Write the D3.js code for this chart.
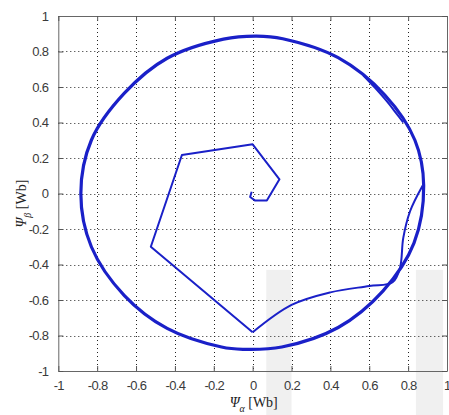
<!DOCTYPE html>
<html lang="en">
<head>
<meta charset="UTF-8">
<title>Flux trajectory</title>
<script src="https://d3js.org/d3.v7.min.js"></script>
<style>
  body { margin: 0; background: #fff; }
  svg { display: block; }
  .tick-label { font-family: "Liberation Sans", Arial, sans-serif; font-size: 13px; letter-spacing: -0.7px; fill: #3a3a3a; }
  .axis-title { font-family: "Liberation Serif", "Times New Roman", serif; font-size: 14px; fill: #222; }
</style>
</head>
<body>
<script>
// tick values for both axes
const xTicks = [-1, -0.8, -0.6, -0.4, -0.2, 0, 0.2, 0.4, 0.6, 0.8, 1];
const yTicks = [-1, -0.8, -0.6, -0.4, -0.2, 0, 0.2, 0.4, 0.6, 0.8, 1];

// start-up transient (psi_alpha, psi_beta)
const startX = [-0.005, -0.013, 0.013, 0.073, 0.138, 0.0, -0.364, -0.524, 0.0];
const startY = [0.01, -0.02, -0.04, -0.04, 0.08, 0.277, 0.217, -0.30, -0.782];

// curved segment from the bottom vertex into the circle
const arcX = [0.0, 0.2, 0.4, 0.6, 0.72, 0.758, 0.775, 0.81, 0.875];
const arcY = [-0.782, -0.628, -0.557, -0.521, -0.50, -0.42, -0.25, -0.10, 0.045];

// steady state circle (closed)
const circX = [0.880, 0.835, 0.68, 0.44, 0.155, 0.02, -0.15, -0.44, -0.66, -0.83, -0.884, -0.83, -0.66, -0.44, -0.16, -0.05, 0.15, 0.44, 0.67, 0.83];
const circY = [0.045, 0.30, 0.555, 0.765, 0.872, 0.887, 0.87, 0.762, 0.565, 0.30, 0.0, -0.30, -0.575, -0.76, -0.865, -0.878, -0.865, -0.755, -0.55, -0.28];

// small doubled piece at top right
const bumpX = [0.57, 0.63, 0.69, 0.74, 0.775];
const bumpY = [0.665, 0.595, 0.52, 0.45, 0.40];

const W = 449, H = 415;
const x = d3.scaleLinear().domain([-1, 1]).range([58.3, 447]);
const y = d3.scaleLinear().domain([-1, 1]).range([371, 16]);

const svg = d3.select('body').append('svg')
    .attr('width', W)
    .attr('height', H);

// faint scan blotches in the background
svg.append('g').selectAll('rect')
    .data([[0.07, 0.2], [0.84, 0.98]])
    .enter().append('rect')
    .attr('x', d => x(d[0]))
    .attr('width', d => x(d[1]) - x(d[0]))
    .attr('y', y(-0.43))
    .attr('height', H - y(-0.43))
    .attr('fill', '#f0f0f0');

// grid
const grid = svg.append('g').attr('stroke', '#222').attr('stroke-width', 1).attr('stroke-dasharray', '1,3');
grid.selectAll('.gx').data(xTicks.slice(1, -1)).enter().append('line')
    .attr('x1', d => Math.round(x(d)) + 0.5).attr('x2', d => Math.round(x(d)) + 0.5)
    .attr('y1', y(1)).attr('y2', y(-1));
grid.selectAll('.gy').data(yTicks.slice(1, -1)).enter().append('line')
    .attr('y1', d => Math.round(y(d)) + 0.5).attr('y2', d => Math.round(y(d)) + 0.5)
    .attr('x1', x(-1)).attr('x2', x(1));

// axes with inward ticks
const fmt = d => String(+d.toFixed(1));
function styleAxis(g) {
    g.select('.domain').attr('stroke', '#666');
    g.selectAll('.tick line').attr('stroke', '#555');
    g.selectAll('.tick text').attr('class', 'tick-label');
}
const xAxisG = svg.append('g').attr('transform', `translate(0,${y(-1)})`)
    .call(d3.axisBottom(x).tickValues(xTicks).tickFormat(fmt).tickSizeInner(-5).tickSizeOuter(0).tickPadding(10))
    .call(styleAxis);
// last label sits against the right edge of the picture
xAxisG.selectAll('.tick text').filter(d => d === 1).attr('text-anchor', 'end').attr('x', 3);

svg.append('g').attr('transform', `translate(${x(-1)},0)`)
    .call(d3.axisLeft(y).tickValues(yTicks).tickFormat(fmt).tickSizeInner(-5).tickSizeOuter(0).tickPadding(10))
    .call(styleAxis);
svg.append('g').attr('transform', `translate(0,${y(1)})`)
    .call(d3.axisTop(x).tickValues(xTicks).tickFormat('').tickSizeInner(-5).tickSizeOuter(0))
    .call(styleAxis);
svg.append('g').attr('transform', `translate(${x(1)},0)`)
    .call(d3.axisRight(y).tickValues(yTicks).tickFormat('').tickSizeInner(-5).tickSizeOuter(0))
    .call(styleAxis);

// trajectory
const blue = '#1a20c8';
const line = d3.line().x(d => x(d[0])).y(d => y(d[1]));
svg.append('path')
    .datum(d3.zip(startX, startY))
    .attr('d', line)
    .attr('fill', 'none').attr('stroke', blue).attr('stroke-width', 2).attr('stroke-linejoin', 'round');
svg.append('path')
    .datum(d3.zip(arcX, arcY))
    .attr('d', d3.line().x(d => x(d[0])).y(d => y(d[1])).curve(d3.curveCatmullRom))
    .attr('fill', 'none').attr('stroke', blue).attr('stroke-width', 2);
svg.append('path')
    .datum(d3.zip(circX, circY))
    .attr('d', d3.line().x(d => x(d[0])).y(d => y(d[1])).curve(d3.curveCatmullRomClosed))
    .attr('fill', 'none').attr('stroke', blue).attr('stroke-width', 3.2);
svg.append('path')
    .datum(d3.zip(bumpX, bumpY))
    .attr('d', d3.line().x(d => x(d[0])).y(d => y(d[1])).curve(d3.curveCatmullRom))
    .attr('fill', 'none').attr('stroke', blue).attr('stroke-width', 2);

// axis titles
const xt = svg.append('text').attr('class', 'axis-title')
    .attr('x', x(0) - 23).attr('y', 407);
xt.append('tspan').attr('font-style', 'italic').text('Ψ');
xt.append('tspan').attr('font-style', 'italic').attr('font-size', 10).attr('dy', 5).text('α');
xt.append('tspan').attr('dy', -5).text(' [Wb]');

const yt = svg.append('text').attr('class', 'axis-title')
    .attr('transform', `translate(26,${y(0) + 34}) rotate(-90)`);
yt.append('tspan').attr('font-style', 'italic').text('Ψ');
yt.append('tspan').attr('font-style', 'italic').attr('font-size', 10).attr('dy', 5).text('β');
yt.append('tspan').attr('dy', -5).text(' [Wb]');
</script>
</body>
</html>
